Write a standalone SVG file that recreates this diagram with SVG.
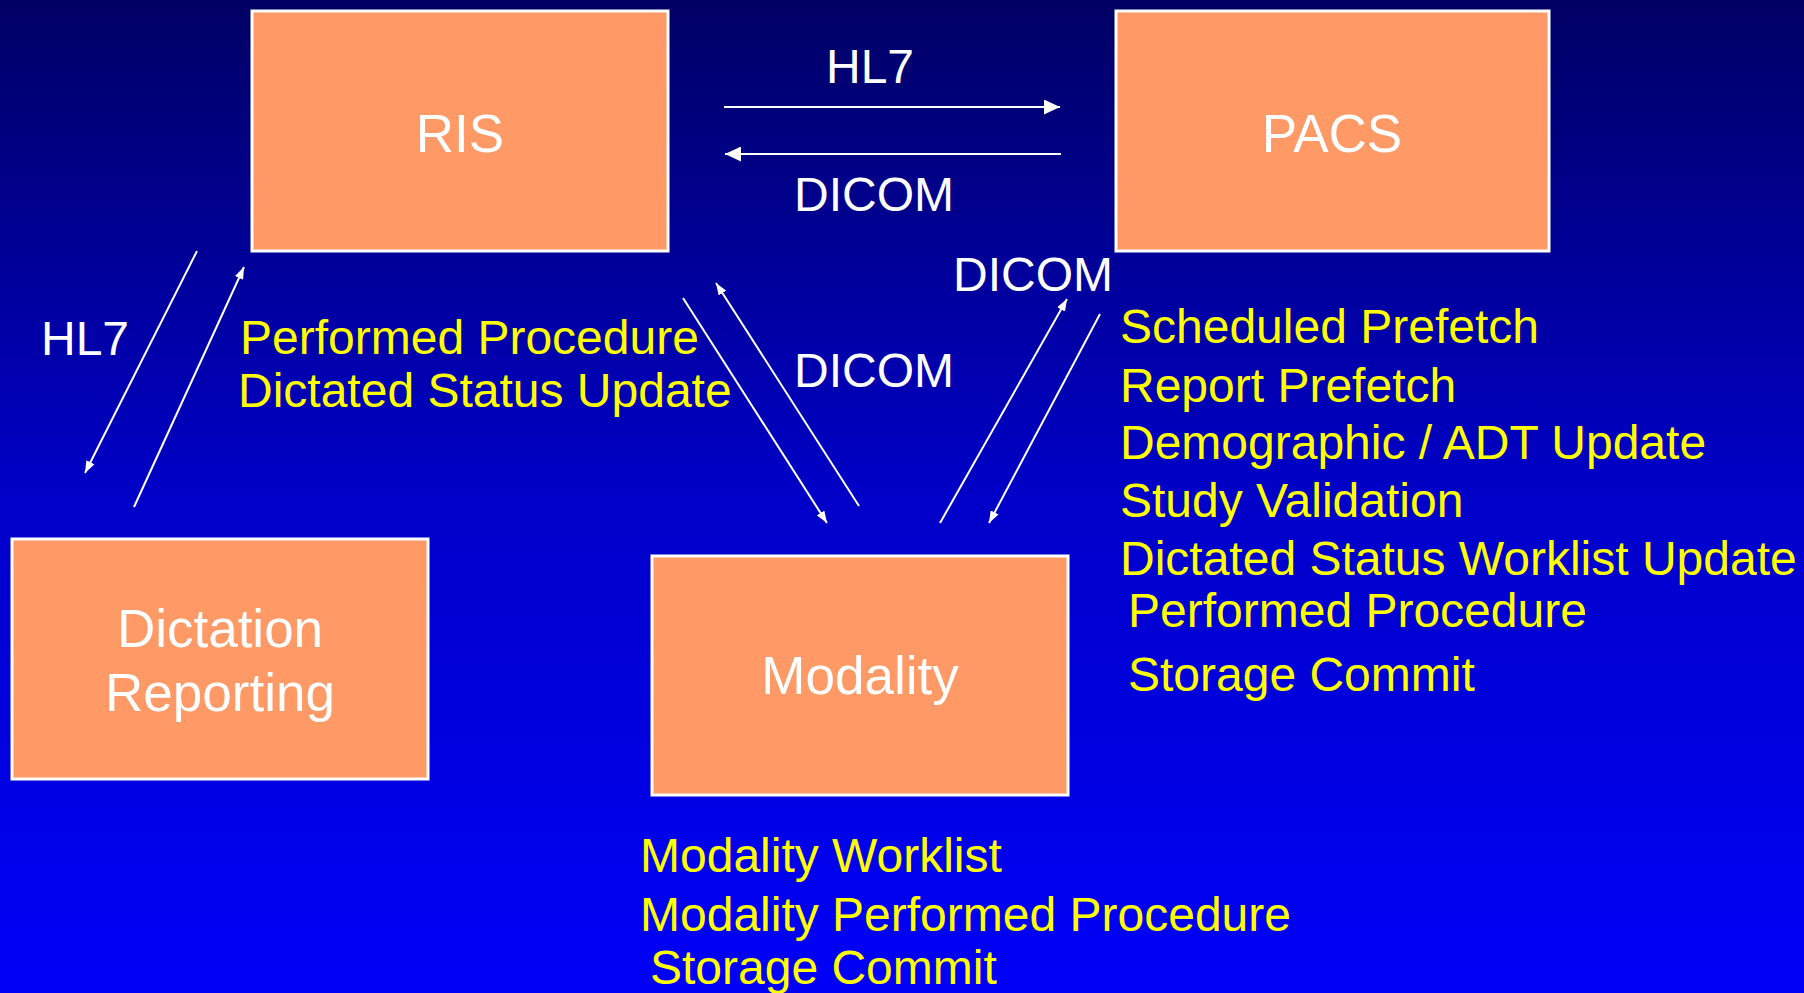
<svg xmlns="http://www.w3.org/2000/svg" width="1804" height="993" viewBox="0 0 1804 993">
<defs>
<linearGradient id="bg" x1="0" y1="0" x2="0" y2="1">
<stop offset="0" stop-color="#000064"/>
<stop offset="0.5" stop-color="#0000C8"/>
<stop offset="1" stop-color="#0000F8"/>
</linearGradient>
<marker id="big" markerUnits="userSpaceOnUse" markerWidth="17" markerHeight="15" refX="16" refY="7.5" orient="auto">
<path d="M0,0 L16,7.5 L0,15 z" fill="#FFFFFF"/>
</marker>
<marker id="small" markerUnits="userSpaceOnUse" markerWidth="13" markerHeight="9" refX="12" refY="4.5" orient="auto">
<path d="M0,0 L12,4.5 L0,9 z" fill="#FFFFFF"/>
</marker>
<style>
.box{fill:#FF9966;stroke:#FFFFFF;stroke-width:3}
.nl{font-family:"Liberation Sans",Arial,sans-serif;font-size:53px;fill:#FFFFFF;text-anchor:middle}
.wl{font-family:"Liberation Sans",Arial,sans-serif;font-size:48px;fill:#FFFFFF}
.yl{font-family:"Liberation Sans",Arial,sans-serif;font-size:48px;fill:#FFFF00}
.c{stroke:#FFFFFF;stroke-width:2;fill:none}
</style>
</defs>
<rect x="0" y="0" width="1804" height="993" fill="url(#bg)"/>
<g id="ris">
<rect class="box" x="252" y="11" width="416" height="240"/>
<text class="nl" x="460" y="152">RIS</text>
</g>
<g id="pacs">
<rect class="box" x="1116" y="11" width="433" height="240"/>
<text class="nl" x="1332" y="152">PACS</text>
</g>
<g id="dictation">
<rect class="box" x="12" y="539" width="416" height="240"/>
<text class="nl" x="220" y="647">Dictation</text>
<text class="nl" x="220" y="711">Reporting</text>
</g>
<g id="modality">
<rect class="box" x="652" y="556" width="416" height="239"/>
<text class="nl" x="860" y="694">Modality</text>
</g>
<g id="connectors">
<line class="c" x1="724" y1="107" x2="1060" y2="107" marker-end="url(#big)"/>
<line class="c" x1="1061" y1="154" x2="725" y2="154" marker-end="url(#big)"/>
<line class="c" x1="197" y1="251" x2="85" y2="473" marker-end="url(#small)"/>
<line class="c" x1="134" y1="507" x2="244" y2="267" marker-end="url(#small)"/>
<line class="c" x1="683" y1="298" x2="827" y2="523" marker-end="url(#small)"/>
<line class="c" x1="859" y1="506" x2="716" y2="283" marker-end="url(#small)"/>
<line class="c" x1="940" y1="523" x2="1067" y2="299" marker-end="url(#small)"/>
<line class="c" x1="1100" y1="314" x2="989" y2="523" marker-end="url(#small)"/>
</g>
<g id="labels">
<text class="wl" x="826" y="83">HL7</text>
<text class="wl" x="794" y="211">DICOM</text>
<text class="wl" x="41" y="355">HL7</text>
<text class="wl" x="794" y="387">DICOM</text>
<text class="wl" x="953" y="291">DICOM</text>
<text class="yl" x="240" y="354">Performed Procedure</text>
<text class="yl" x="238" y="407">Dictated Status Update</text>
<text class="yl" x="1120" y="343">Scheduled Prefetch</text>
<text class="yl" x="1120" y="402">Report Prefetch</text>
<text class="yl" x="1120" y="459">Demographic / ADT Update</text>
<text class="yl" x="1120" y="517">Study Validation</text>
<text class="yl" x="1120" y="575">Dictated Status Worklist Update</text>
<text class="yl" x="1128" y="627">Performed Procedure</text>
<text class="yl" x="1128" y="691">Storage Commit</text>
<text class="yl" x="640" y="872">Modality Worklist</text>
<text class="yl" x="640" y="931">Modality Performed Procedure</text>
<text class="yl" x="650" y="984">Storage Commit</text>
</g>
</svg>
